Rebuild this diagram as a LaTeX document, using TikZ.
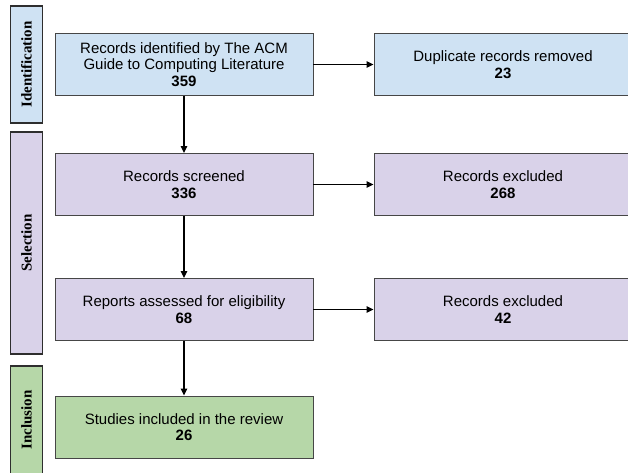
\documentclass[tikz,border=0pt]{standalone}
\usepackage{fontspec}
\setmainfont{Liberation Sans}
\newfontfamily\barfont{Liberation Serif}
\usepackage{tikz}
\usetikzlibrary{arrows.meta,positioning}
\usepackage{xcolor}
\definecolor{prismablue}{HTML}{CFE2F3}
\definecolor{prismalilac}{HTML}{D9D2E9}
\definecolor{prismagreen}{HTML}{B6D7A8}
\definecolor{prismaedge}{HTML}{464646}
\definecolor{prismabar}{HTML}{2E2E2E}

\begin{document}
\begin{tikzpicture}[
    x=1pt, y=-1pt,
    box/.style={draw=prismaedge,line width=0.9pt,minimum width=258pt,minimum height=62pt,align=center,
        font=\fontsize{15}{16.5}\selectfont,inner sep=0pt},
    phase/.style={draw=prismabar,line width=1.8pt,minimum width=32pt,align=center,inner sep=0pt},
    phaselabel/.style={rotate=90,font=\barfont\fontsize{15}{17}\selectfont\bfseries},
    >={Triangle[length=7pt,width=6.5pt]}
]
\clip (0,0) rectangle (628,473);
\fill[white] (0,0) rectangle (628,473);

% phase bars on the left
\node[phase,fill=prismablue,minimum height=117pt] (idbar) at (26.5,64.5) {};
\node[phase,fill=prismalilac,minimum height=222pt] (selbar) at (26.5,243) {};
\node[phase,fill=prismagreen,minimum height=118pt] (incbar) at (26.5,425) {};
\node[phaselabel] (idtxt) at (idbar.center) {Identification};
\node[phaselabel] (seltxt) at (selbar.center) {Selection};
\node[phaselabel] (inctxt) at (26.5,420) {Inclusion};

% main column
\node[box,fill=prismablue] (ident) at (184,64.5) {Records identified by The ACM\\Guide to Computing Literature\\\textbf{359}};
\node[box,fill=prismalilac] (screen) at (184,184.5) {Records screened\\\textbf{336}};
\node[box,fill=prismalilac] (elig) at (184,309.5) {Reports assessed for eligibility\\\textbf{68}};
\node[box,fill=prismagreen] (incl) at (184,427) {Studies included in the review\\\textbf{26}};

% removed / excluded
\node[box,fill=prismablue] (dup) at (503,64.5) {Duplicate records removed\\\textbf{23}};
\node[box,fill=prismalilac] (excl1) at (503,184.5) {Records excluded\\\textbf{268}};
\node[box,fill=prismalilac] (excl2) at (503,309.5) {Records excluded\\\textbf{42}};

\draw[->,line width=1.1pt] (ident) -- (screen);
\draw[->,line width=1.1pt] (screen) -- (elig);
\draw[->,line width=1.1pt] (elig) -- (incl);
\draw[->,line width=1.1pt] (ident) -- (dup);
\draw[->,line width=1.1pt] (screen) -- (excl1);
\draw[->,line width=1.1pt] (elig) -- (excl2);
\end{tikzpicture}
\end{document}
